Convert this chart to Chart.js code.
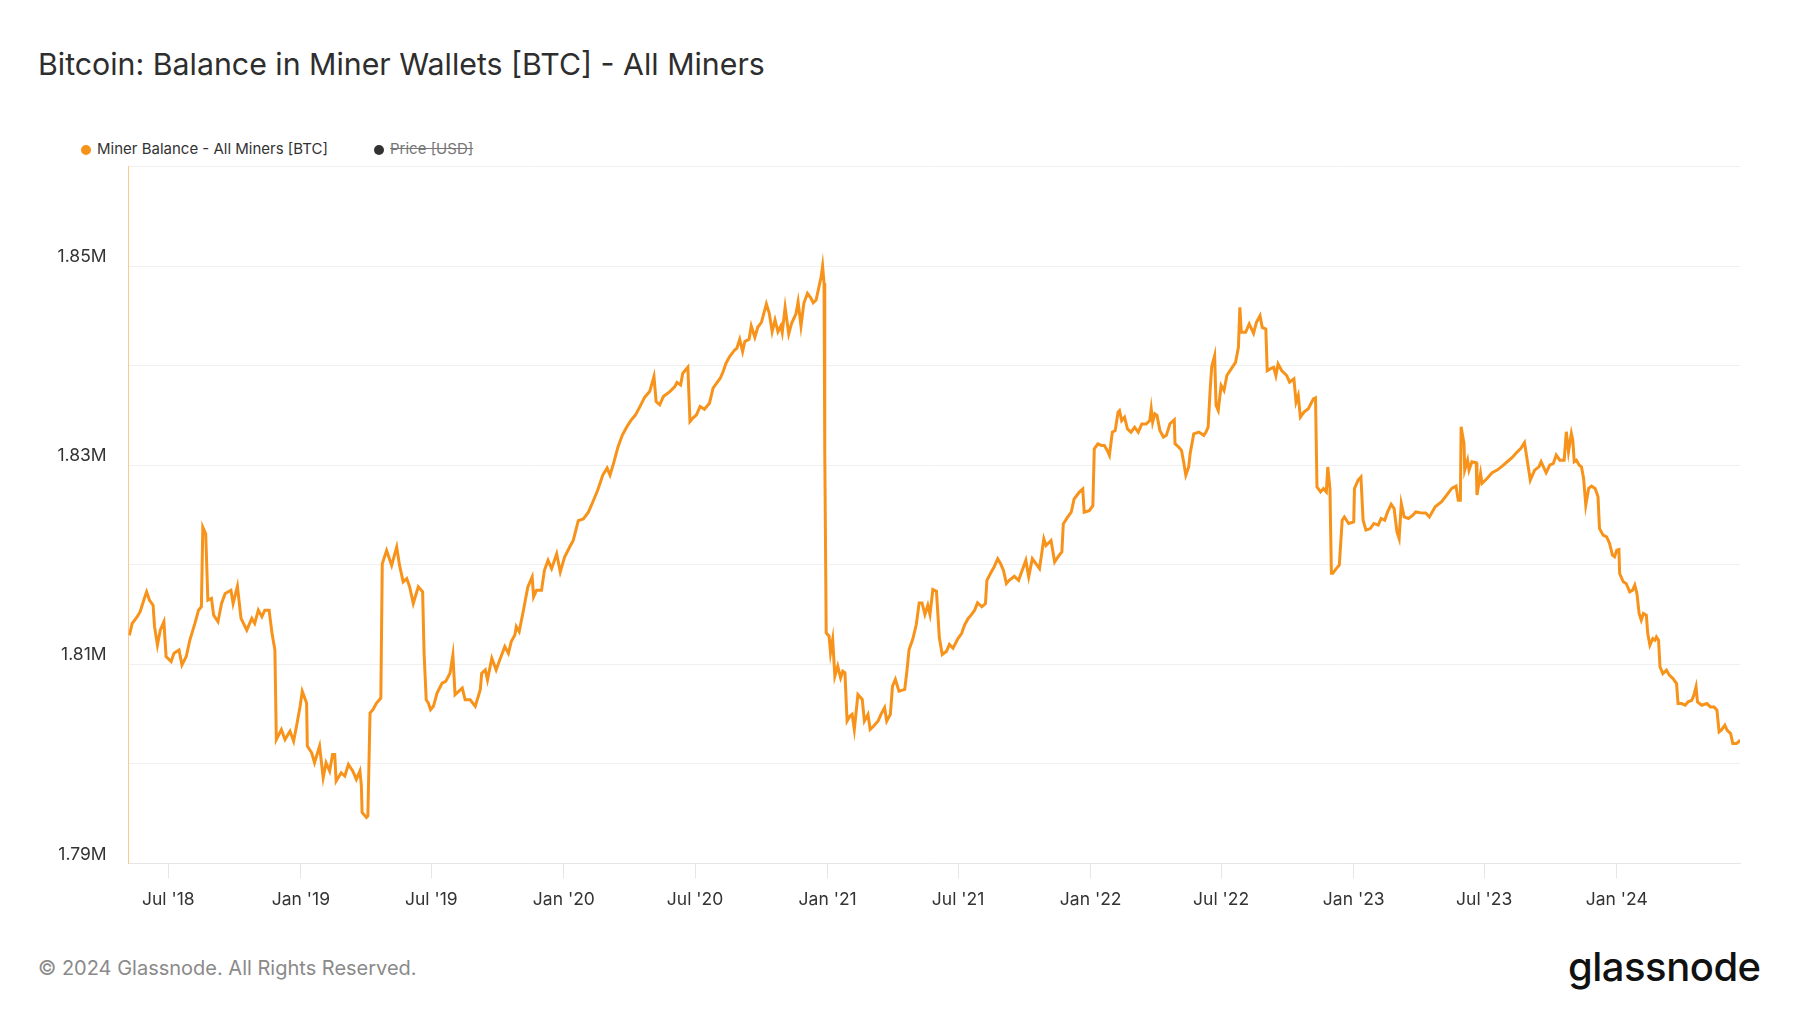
<!DOCTYPE html>
<html>
<head>
<meta charset="utf-8">
<script src="https://cdn.jsdelivr.net/npm/chart.js@4.4.1/dist/chart.umd.min.js"></script>
<style>
html,body{margin:0;padding:0;background:#fff;}
body{width:1800px;height:1013px;position:relative;overflow:hidden;font-family:Inter,"Noto Sans",sans-serif;}
#title{position:absolute;left:38px;top:46px;font-size:30.3px;line-height:36px;color:#2e2e2e;white-space:nowrap;}
.leg{position:absolute;top:140px;font-size:15px;line-height:18px;color:#333;white-space:nowrap;}
.leg .dot{display:inline-block;width:10px;height:10px;border-radius:50%;margin-right:6px;vertical-align:-1px;}
#legPrice{color:#777;text-decoration:line-through;}
#chartBox{position:absolute;left:0;top:134px;}
#footer{position:absolute;left:38px;top:954px;font-size:20px;line-height:28px;color:#8a8a8a;white-space:nowrap;}
#logo{position:absolute;left:1568px;top:944px;font-size:40px;line-height:46px;font-weight:500;color:#111;letter-spacing:-0.5px;white-space:nowrap;}
</style>
</head>
<body>
<div id="title">Bitcoin: Balance in Miner Wallets [BTC] - All Miners</div>
<div class="leg" style="left:81px"><span class="dot" style="background:#f7931a"></span>Miner Balance - All Miners [BTC]</div>
<div class="leg" style="left:374px"><span class="dot" style="background:#333"></span><span id="legPrice">Price [USD]</span></div>
<div id="chartBox"><canvas id="chart" width="1800" height="796"></canvas></div>
<div id="footer">© 2024 Glassnode. All Rights Reserved.</div>
<div id="logo">glassnode</div>

<script>
// x range and axis ticks
const xMin = '2018-05-07';
const xMax = '2024-06-20';
const tickDates = ['2018-07-01','2019-01-01','2019-07-01','2020-01-01','2020-07-01','2021-01-01',
                   '2021-07-01','2022-01-01','2022-07-01','2023-01-01','2023-07-01','2024-01-01'];
const tickLabels = ["Jul '18","Jan '19","Jul '19","Jan '20","Jul '20","Jan '21",
                    "Jul '21","Jan '22","Jul '22","Jan '23","Jul '23","Jan '24"];
const yTicks = [1790000,1800000,1810000,1820000,1830000,1840000,1850000,1860000];
const yTickLabels = ['1.79M','','1.81M','','1.83M','','1.85M',''];

// miner balance [BTC]
const dates = [
'2018-05-08','2018-05-12','2018-05-19','2018-05-23','2018-05-28','2018-06-01','2018-06-05','2018-06-10','2018-06-12','2018-06-16',
'2018-06-20','2018-06-25','2018-06-28','2018-07-05','2018-07-09','2018-07-16','2018-07-20','2018-07-26','2018-07-31','2018-08-07',
'2018-08-12','2018-08-16','2018-08-18','2018-08-22','2018-08-25','2018-08-30','2018-09-02','2018-09-08','2018-09-13','2018-09-18',
'2018-09-26','2018-09-29','2018-10-05','2018-10-10','2018-10-18','2018-10-25','2018-10-29','2018-11-03','2018-11-08','2018-11-12',
'2018-11-18','2018-11-22','2018-11-26','2018-11-28','2018-12-05','2018-12-10','2018-12-17','2018-12-22','2018-12-26','2018-12-31',
'2019-01-03','2019-01-09','2019-01-10','2019-01-16','2019-01-20','2019-01-27','2019-02-01','2019-02-05','2019-02-10','2019-02-14',
'2019-02-17','2019-02-19','2019-02-26','2019-03-03','2019-03-08','2019-03-14','2019-03-19','2019-03-24','2019-03-26','2019-03-27',
'2019-04-02','2019-04-04','2019-04-07','2019-04-11','2019-04-16','2019-04-22','2019-04-24','2019-04-30','2019-05-07','2019-05-14',
'2019-05-18','2019-05-23','2019-05-28','2019-06-01','2019-06-06','2019-06-13','2019-06-19','2019-06-21','2019-06-24','2019-06-27',
'2019-06-30','2019-07-04','2019-07-09','2019-07-16','2019-07-21','2019-07-27','2019-07-31','2019-08-03','2019-08-08','2019-08-13',
'2019-08-17','2019-08-24','2019-08-31','2019-09-07','2019-09-09','2019-09-14','2019-09-17','2019-09-23','2019-09-29','2019-10-04',
'2019-10-11','2019-10-16','2019-10-20','2019-10-25','2019-10-27','2019-10-31','2019-11-05','2019-11-12','2019-11-18','2019-11-20',
'2019-11-24','2019-12-01','2019-12-05','2019-12-10','2019-12-15','2019-12-22','2019-12-27','2020-01-02','2020-01-09','2020-01-14',
'2020-01-21','2020-01-28','2020-02-04','2020-02-10','2020-02-17','2020-02-24','2020-03-01','2020-03-05','2020-03-10','2020-03-16',
'2020-03-22','2020-03-28','2020-04-03','2020-04-09','2020-04-15','2020-04-22','2020-04-29','2020-05-05','2020-05-08','2020-05-13',
'2020-05-18','2020-05-27','2020-06-03','2020-06-06','2020-06-11','2020-06-14','2020-06-21','2020-06-24','2020-06-28','2020-07-03',
'2020-07-08','2020-07-14','2020-07-21','2020-07-26','2020-07-31','2020-08-05','2020-08-09','2020-08-13','2020-08-18','2020-08-25',
'2020-08-28','2020-09-01','2020-09-05','2020-09-08','2020-09-14','2020-09-17','2020-09-22','2020-09-26','2020-10-01','2020-10-08',
'2020-10-12','2020-10-16','2020-10-20','2020-10-24','2020-10-28','2020-10-30','2020-11-03','2020-11-08','2020-11-12','2020-11-18',
'2020-11-21','2020-11-25','2020-11-29','2020-12-04','2020-12-09','2020-12-12','2020-12-16','2020-12-20','2020-12-23','2020-12-25',
'2020-12-27','2020-12-28','2020-12-29','2020-12-30','2021-01-03','2021-01-05','2021-01-08','2021-01-11','2021-01-15','2021-01-19',
'2021-01-22','2021-01-25','2021-01-28','2021-02-01','2021-02-04','2021-02-07','2021-02-12','2021-02-18','2021-02-21','2021-02-26',
'2021-03-01','2021-03-06','2021-03-12','2021-03-16','2021-03-21','2021-03-24','2021-03-29','2021-04-01','2021-04-05','2021-04-10',
'2021-04-18','2021-04-21','2021-04-24','2021-04-29','2021-05-04','2021-05-08','2021-05-12','2021-05-16','2021-05-20','2021-05-23',
'2021-05-27','2021-06-01','2021-06-05','2021-06-09','2021-06-15','2021-06-19','2021-06-24','2021-07-01','2021-07-06','2021-07-10',
'2021-07-15','2021-07-19','2021-07-24','2021-07-28','2021-08-03','2021-08-08','2021-08-10','2021-08-16','2021-08-20','2021-08-25',
'2021-08-29','2021-09-02','2021-09-06','2021-09-10','2021-09-17','2021-09-23','2021-09-28','2021-10-03','2021-10-07','2021-10-12',
'2021-10-17','2021-10-22','2021-10-28','2021-10-31','2021-11-07','2021-11-12','2021-11-18','2021-11-22','2021-11-24','2021-11-30',
'2021-12-05','2021-12-09','2021-12-16','2021-12-21','2021-12-23','2021-12-30','2022-01-04','2022-01-06','2022-01-11','2022-01-16',
'2022-01-20','2022-01-24','2022-01-27','2022-01-31','2022-02-04','2022-02-08','2022-02-10','2022-02-13','2022-02-17','2022-02-21',
'2022-02-26','2022-03-03','2022-03-08','2022-03-13','2022-03-19','2022-03-24','2022-03-26','2022-03-28','2022-03-31','2022-04-03',
'2022-04-07','2022-04-12','2022-04-16','2022-04-21','2022-04-27','2022-04-28','2022-05-03','2022-05-07','2022-05-10','2022-05-13',
'2022-05-17','2022-05-19','2022-05-24','2022-05-31','2022-06-07','2022-06-10','2022-06-13','2022-06-16','2022-06-18','2022-06-22',
'2022-06-24','2022-06-27','2022-07-01','2022-07-05','2022-07-09','2022-07-15','2022-07-21','2022-07-25','2022-07-27','2022-07-29',
'2022-08-04','2022-08-09','2022-08-15','2022-08-19','2022-08-24','2022-08-27','2022-09-01','2022-09-03','2022-09-07','2022-09-12',
'2022-09-15','2022-09-18','2022-09-23','2022-09-30','2022-10-04','2022-10-10','2022-10-13','2022-10-16','2022-10-19','2022-10-24',
'2022-10-30','2022-11-06','2022-11-09','2022-11-11','2022-11-16','2022-11-20','2022-11-24','2022-11-26','2022-11-29','2022-12-01',
'2022-12-03','2022-12-08','2022-12-12','2022-12-16','2022-12-19','2022-12-25','2023-01-01','2023-01-02','2023-01-07','2023-01-11',
'2023-01-14','2023-01-18','2023-01-24','2023-01-29','2023-02-04','2023-02-08','2023-02-13','2023-02-17','2023-02-22','2023-02-26',
'2023-03-02','2023-03-05','2023-03-08','2023-03-12','2023-03-18','2023-03-24','2023-03-28','2023-04-03','2023-04-11','2023-04-16',
'2023-04-24','2023-05-03','2023-05-10','2023-05-17','2023-05-23','2023-05-26','2023-05-29','2023-05-30','2023-06-03','2023-06-04',
'2023-06-08','2023-06-10','2023-06-14','2023-06-20','2023-06-21','2023-06-26','2023-06-28','2023-07-05','2023-07-12','2023-07-19',
'2023-07-26','2023-08-02','2023-08-09','2023-08-16','2023-08-21','2023-08-26','2023-08-29','2023-09-03','2023-09-09','2023-09-15',
'2023-09-18','2023-09-25','2023-09-30','2023-10-05','2023-10-09','2023-10-14','2023-10-20','2023-10-23','2023-10-26','2023-10-30',
'2023-11-01','2023-11-03','2023-11-06','2023-11-10','2023-11-13','2023-11-16','2023-11-19','2023-11-23','2023-11-27','2023-12-02',
'2023-12-06','2023-12-08','2023-12-13','2023-12-18','2023-12-22','2023-12-26','2023-12-29','2024-01-01','2024-01-04','2024-01-05',
'2024-01-10','2024-01-14','2024-01-19','2024-01-23','2024-01-26','2024-01-29','2024-02-01','2024-02-04','2024-02-07','2024-02-11',
'2024-02-13','2024-02-16','2024-02-20','2024-02-23','2024-02-25','2024-02-28','2024-03-01','2024-03-05','2024-03-10','2024-03-14',
'2024-03-19','2024-03-24','2024-03-26','2024-03-31','2024-04-05','2024-04-09','2024-04-14','2024-04-17','2024-04-20','2024-04-22',
'2024-04-28','2024-05-05','2024-05-10','2024-05-15','2024-05-19','2024-05-22','2024-05-25','2024-05-30','2024-06-02','2024-06-07',
'2024-06-10','2024-06-15','2024-06-18','2024-06-20'
];
const balance = [
1812900,1814100,1814770,1815270,1816430,1817270,1816430,1815930,1813770,1811930,
1813430,1814270,1810770,1810270,1811100,1811430,1809930,1810770,1812430,1814100,
1815430,1815770,1823770,1823100,1816430,1816600,1814930,1814270,1816100,1817100,
1817430,1816100,1817830,1814600,1813430,1814600,1814100,1815430,1814770,1815430,
1815430,1813100,1811430,1802430,1803430,1802430,1803270,1802270,1803770,1805770,
1807270,1806100,1801770,1801100,1800100,1801770,1798600,1800100,1799270,1800930,
1800930,1798270,1799100,1798770,1799930,1799270,1798430,1799270,1797770,1795100,
1794600,1794770,1805100,1805430,1806100,1806600,1820100,1821430,1819930,1821770,
1819930,1818270,1818600,1817770,1816100,1817770,1817270,1811100,1806430,1806100,
1805430,1805770,1807100,1808100,1808270,1809100,1810930,1806930,1807270,1807600,
1806430,1806430,1805770,1807430,1809100,1809430,1808430,1810600,1809430,1810430,
1811770,1811100,1812270,1812930,1813770,1813270,1815100,1817770,1818770,1816770,
1817430,1817430,1819430,1820430,1819600,1821100,1819270,1820770,1821770,1822430,
1824430,1824600,1825270,1826270,1827500,1829000,1829700,1829000,1830200,1831800,
1833000,1833800,1834500,1835000,1835800,1836800,1837390,1838900,1836390,1836060,
1836890,1837390,1837900,1838300,1838060,1839230,1839830,1834380,1834720,1835050,
1835890,1835620,1836220,1837730,1838230,1838730,1839400,1840240,1840900,1841570,
1841740,1842640,1841410,1842410,1842640,1843980,1842840,1843850,1844320,1846190,
1845250,1843410,1844580,1843410,1843980,1843310,1845850,1843180,1844250,1845190,
1846420,1843980,1846260,1847260,1846760,1846320,1846590,1847930,1848930,1850000,
1848260,1831540,1822510,1813150,1812820,1811140,1812480,1808800,1809810,1808640,
1809300,1809140,1804290,1804790,1804960,1803450,1806960,1806460,1804290,1804960,
1803450,1803790,1804290,1804960,1805630,1804290,1804960,1807800,1808470,1807300,
1807470,1809300,1811480,1812480,1813990,1816160,1816160,1814990,1815920,1814990,
1817500,1817330,1812650,1810980,1811310,1811980,1811600,1812600,1813100,1813930,
1814600,1814930,1815430,1816170,1815770,1816100,1818430,1819270,1819770,1820600,
1820100,1819430,1818100,1818430,1818830,1818430,1819430,1820430,1818770,1820600,
1820100,1819600,1822600,1821930,1822430,1820270,1820930,1821270,1824100,1824770,
1825270,1826600,1827270,1827600,1825270,1825430,1825930,1831640,1832140,1831980,
1831980,1831480,1830980,1833310,1833470,1835310,1835470,1834470,1834810,1833640,
1833310,1833810,1833310,1834140,1834140,1834470,1835660,1834320,1835160,1834990,
1833490,1832820,1832990,1834160,1834560,1832150,1831820,1831480,1830310,1828980,
1829810,1831150,1833150,1833320,1832990,1833320,1833820,1837830,1839900,1841000,
1835990,1835490,1838000,1837500,1839000,1839670,1840330,1841840,1845850,1843340,
1843340,1844180,1843240,1844340,1845010,1843840,1843670,1839500,1839670,1839830,
1839000,1840170,1839500,1839000,1838330,1838660,1836330,1836990,1834820,1835320,
1835660,1836660,1836760,1827810,1827310,1827640,1827310,1829810,1827640,1819130,
1819130,1819630,1819960,1824470,1824800,1824140,1824300,1827640,1828480,1828810,
1824470,1823470,1823630,1824140,1823970,1824640,1824470,1825300,1826070,1825640,
1823300,1822630,1826140,1824800,1824640,1824970,1825300,1825210,1825200,1824800,
1825810,1826320,1826990,1827660,1827890,1826480,1826480,1833850,1832180,1829500,
1830500,1829500,1830340,1830240,1826990,1829160,1828160,1828660,1829230,1829500,
1829900,1830340,1830770,1831340,1831680,1832250,1830840,1828490,1829500,1829830,
1830340,1829230,1830000,1830170,1831010,1830500,1830500,1833350,1831340,1833180,
1832510,1830340,1830500,1830000,1829830,1828660,1825980,1827660,1827890,1827660,
1826820,1823640,1822970,1822800,1822130,1820960,1820790,1821460,1821530,1819110,
1818280,1818110,1817270,1817440,1817940,1817100,1815090,1814420,1815090,1814920,
1813080,1811910,1812580,1812410,1812750,1812410,1809730,1809060,1809400,1808900,
1808560,1808060,1806050,1806050,1805880,1806220,1806380,1806890,1807720,1806220,
1805880,1806050,1805710,1805710,1805380,1803200,1803370,1803870,1803370,1803030,
1802030,1802030,1802200,1802400
];

const tickFont = { family: 'Inter', size: 17.5 };

new Chart(document.getElementById('chart'), {
    type: 'line',
    data: {
        datasets: [{
            label: 'Miner Balance - All Miners [BTC]',
            data: dates.map((d, i) => ({ x: Date.parse(d), y: balance[i] })),
            borderColor: '#f7931a',
            borderWidth: 3,
            pointRadius: 0,
            tension: 0,
            fill: false
        }]
    },
    options: {
        responsive: false,
        animation: false,
        layout: { padding: { top: 14, right: 60, bottom: 0, left: 0 } },
        plugins: { legend: { display: false }, tooltip: { enabled: false } },
        scales: {
            x: {
                type: 'linear',
                min: Date.parse(xMin),
                max: Date.parse(xMax),
                afterBuildTicks: s => { s.ticks = tickDates.map(d => ({ value: Date.parse(d) })); },
                afterFit: s => { s.height = 66.7; },
                grid: { drawOnChartArea: false, drawTicks: true, tickLength: 15, color: '#e6e6e6' },
                border: { color: '#e6e6e6' },
                ticks: {
                    autoSkip: false, maxRotation: 0, padding: 11, color: '#333', font: tickFont,
                    callback: (v, i) => tickLabels[i]
                }
            },
            y: {
                min: 1790000,
                max: 1860000,
                afterBuildTicks: s => { s.ticks = yTicks.map(v => ({ value: v })); },
                afterFit: s => { s.width = 128.6; },
                grid: { color: '#f0f0f0', drawTicks: false },
                border: { color: '#fbc98a' },
                ticks: {
                    padding: 22, labelOffset: -9, color: '#333', font: tickFont,
                    callback: (v, i) => yTickLabels[i]
                }
            }
        }
    }
});
</script>
</body>
</html>
